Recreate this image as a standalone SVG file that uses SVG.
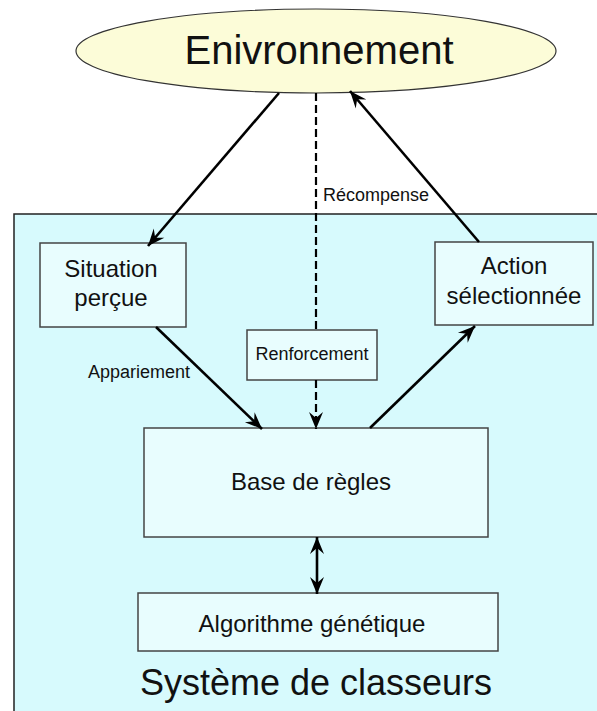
<svg xmlns="http://www.w3.org/2000/svg" width="597" height="711" viewBox="0 0 597 711">
<defs>
<style>
text{font-family:"Liberation Sans",Arial,sans-serif;fill:#111;text-anchor:middle}
.box{fill:#e8fdfe;stroke:#444;stroke-width:1.5}
.ln{stroke:#000;stroke-width:2.6;fill:none}
.dash{stroke:#000;stroke-width:2.2;fill:none;stroke-dasharray:8 4}
</style>
<marker id="ah" markerUnits="userSpaceOnUse" markerWidth="20" markerHeight="16" viewBox="-18 -8 20 16" refX="0" refY="0" orient="auto">
<path d="M0,0 L-17,-7 L-11,0 L-17,7 Z" fill="#000"/>
</marker>
<marker id="ahs" markerUnits="userSpaceOnUse" markerWidth="20" markerHeight="16" viewBox="-18 -8 20 16" refX="0" refY="0" orient="auto-start-reverse">
<path d="M0,0 L-17,-7 L-11,0 L-17,7 Z" fill="#000"/>
</marker>
</defs>
<g id="systeme">
<rect x="14" y="214" width="600" height="520" fill="#d7fafd" stroke="#222" stroke-width="1.5"/>
<text x="316" y="695" font-size="36">Système de classeurs</text>
</g>
<g id="environnement">
<ellipse cx="316" cy="51" rx="240" ry="42" fill="#fcfcd8" stroke="#333" stroke-width="1.2"/>
<text x="319" y="64" font-size="40">Enivronnement</text>
</g>
<g id="situation">
<rect class="box" x="40" y="243" width="146" height="84"/>
<text x="111" y="277" font-size="24">Situation</text>
<text x="111" y="306" font-size="24">perçue</text>
</g>
<g id="action">
<rect class="box" x="435" y="242" width="158" height="83"/>
<text x="514" y="274" font-size="24">Action</text>
<text x="514" y="304" font-size="24">sélectionnée</text>
</g>
<g id="renforcement">
<rect class="box" x="247" y="330" width="130" height="50"/>
<text x="312" y="360" font-size="18">Renforcement</text>
</g>
<g id="base">
<rect class="box" x="144" y="428" width="344" height="109"/>
<text x="311" y="490" font-size="24">Base de règles</text>
</g>
<g id="algo">
<rect class="box" x="138" y="593" width="360" height="58"/>
<text x="312" y="632" font-size="24">Algorithme génétique</text>
</g>
<g id="connecteurs">
<line class="ln" x1="279" y1="93" x2="148" y2="246" marker-end="url(#ah)"/>
<line class="ln" x1="479" y1="242" x2="350" y2="91" marker-end="url(#ah)"/>
<line class="ln" x1="156" y1="327" x2="262" y2="429" marker-end="url(#ah)"/>
<line class="ln" x1="370" y1="428" x2="475" y2="326" marker-end="url(#ah)"/>
<line class="dash" x1="316" y1="93" x2="316" y2="330"/>
<line class="dash" x1="316" y1="380" x2="316" y2="429" marker-end="url(#ah)"/>
<line class="ln" x1="317" y1="537" x2="317" y2="594" marker-start="url(#ahs)" marker-end="url(#ah)"/>
<text x="376" y="201" font-size="18">Récompense</text>
<text x="139" y="378" font-size="18">Appariement</text>
</g>
</svg>
